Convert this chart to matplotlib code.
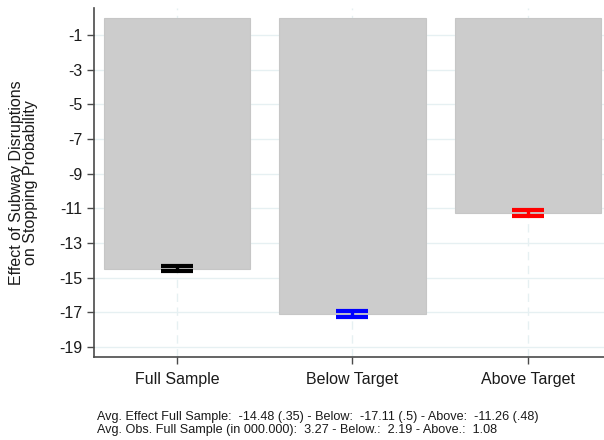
import matplotlib.pyplot as plt

plt.rcParams['font.family'] = ['Liberation Sans', 'DejaVu Sans']

groups = ['Full Sample', 'Below Target', 'Above Target']
effects = [-14.48, -17.11, -11.26]
ci_half = [0.13, 0.19, 0.18]
bar_colors = ['black', 'blue', 'red']
yticks = [-1, -3, -5, -7, -9, -11, -13, -15, -17, -19]
note_lines = [
    'Avg. Effect Full Sample:  -14.48 (.35) - Below:  -17.11 (.5) - Above:  -11.26 (.48)',
    'Avg. Obs. Full Sample (in 000.000):  3.27 - Below.:  2.19 - Above.:  1.08',
]

W, H = 604, 440
fig = plt.figure(figsize=(W / 100, H / 100), dpi=100)
ax = fig.add_axes([94 / W, 1 - 357 / H, (605 - 94) / W, (357 - 8) / H])

x = list(range(len(groups)))

# light grid behind the bars
for t in yticks:
    ax.axhline(t, color='#e6f0f2', lw=1.0, zorder=0)
for xi in x:
    ax.axvline(xi, color='#e6f0f2', lw=1.0, ls=(0, (6, 4)), zorder=0)

ax.bar(x, effects, width=0.834, color='#cccccc', edgecolor='#c6c6c6', lw=0.8, zorder=1)

for xi, m, h, c in zip(x, effects, ci_half, bar_colors):
    ax.errorbar(xi, m, yerr=h, fmt='none', ecolor=c, elinewidth=2.4,
                capsize=11.2, capthick=3.0, zorder=3)

ax.set_xlim(-0.474, 2.44)
ax.set_ylim(-19.58, 0.56)
ax.set_yticks(yticks)
ax.set_yticklabels([str(t) for t in yticks])
ax.set_xticks(x)
ax.set_xticklabels(groups)

for s in ['top', 'right']:
    ax.spines[s].set_visible(False)
for s in ['left', 'bottom']:
    ax.spines[s].set_color('#4a4a4a')
    ax.spines[s].set_linewidth(1.2)
ax.tick_params(axis='both', colors='#4a4a4a', labelcolor='#1a1a1a',
               labelsize=11.5, length=5, width=1.0)
ax.tick_params(axis='x', pad=6)

ax.set_ylabel('Effect of Subway Disruptions\non Stopping Probability',
              fontsize=11.5, color='#1a1a1a', linespacing=0.95, labelpad=15)

fig.text(97 / W, 1 - 417 / H, note_lines[0], fontsize=9.1, color='#1a1a1a', va='center')
fig.text(97 / W, 1 - 430 / H, note_lines[1], fontsize=9.1, color='#1a1a1a', va='center')

fig.savefig('out.png', dpi=100)
